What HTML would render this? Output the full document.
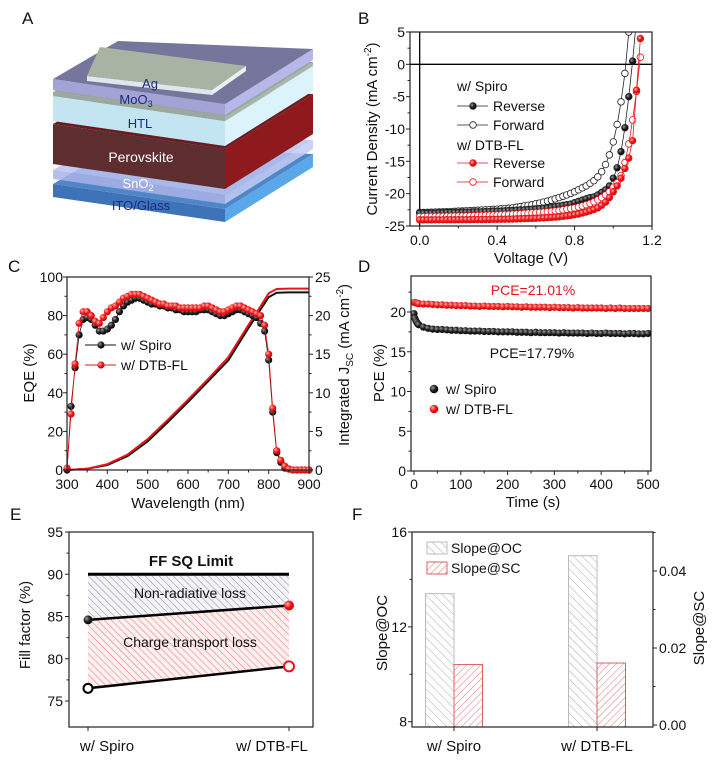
<!DOCTYPE html>
<html><head><meta charset="utf-8"><style>
html,body{margin:0;padding:0;background:#fff;}
svg{display:block;font-family:"Liberation Sans",Arial,sans-serif;}
</style></head><body>
<svg id="fig" width="716" height="774" viewBox="0 0 716 774" xmlns="http://www.w3.org/2000/svg">
<defs>
<radialGradient id="gBlack" cx="0.35" cy="0.35" r="0.7"><stop offset="0" stop-color="#9a9a9a"/><stop offset="0.5" stop-color="#222"/><stop offset="1" stop-color="#000"/></radialGradient>
<radialGradient id="gRed" cx="0.35" cy="0.35" r="0.7"><stop offset="0" stop-color="#ffb0b0"/><stop offset="0.5" stop-color="#ee1c1c"/><stop offset="1" stop-color="#c00"/></radialGradient>
<pattern id="hGray" patternUnits="userSpaceOnUse" width="5" height="5" patternTransform="rotate(-45)"><rect width="5" height="5" fill="#f4f4f8"/><line x1="0" y1="0" x2="0" y2="5" stroke="#8a8a9a" stroke-width="1"/></pattern>
<pattern id="hRed" patternUnits="userSpaceOnUse" width="5" height="5" patternTransform="rotate(-45)"><rect width="5" height="5" fill="#fff0f0"/><line x1="0" y1="0" x2="0" y2="5" stroke="#e07070" stroke-width="1"/></pattern>
<pattern id="bGray" patternUnits="userSpaceOnUse" width="6" height="6" patternTransform="rotate(-45)"><rect width="6" height="6" fill="#fff"/><line x1="0" y1="0" x2="0" y2="6" stroke="#aaa" stroke-width="1"/></pattern>
<pattern id="bRed" patternUnits="userSpaceOnUse" width="5" height="5" patternTransform="rotate(45)"><rect width="5" height="5" fill="#fff"/><line x1="0" y1="0" x2="0" y2="5" stroke="#e27070" stroke-width="1"/></pattern>
<clipPath id="clipB"><rect x="410" y="32" width="242" height="194"/></clipPath>
</defs>
</svg>
<script>
// ---------- data ----------
// Panel B (J-V)
const voltB=[0,0.02,0.04,0.06,0.08,0.1,0.12,0.14,0.16,0.18,0.2,0.22,0.24,0.26,0.28,0.3,0.32,0.34,0.36,0.38,0.4,0.42,0.44,0.46,0.48,0.5,0.52,0.54,0.56,0.58,0.6,0.62,0.64,0.66,0.68,0.7,0.72,0.74,0.76,0.78,0.8,0.82,0.84,0.86,0.88,0.9,0.92,0.94,0.96,0.98,1.0,1.02,1.04,1.06,1.08,1.1,1.12,1.14];
const spiroRev=[-23.0,-23.0,-23.0,-23.0,-23.0,-22.95,-22.95,-22.9,-22.9,-22.9,-22.9,-22.85,-22.85,-22.85,-22.8,-22.8,-22.8,-22.75,-22.75,-22.7,-22.7,-22.7,-22.65,-22.6,-22.6,-22.55,-22.5,-22.5,-22.45,-22.4,-22.35,-22.3,-22.25,-22.2,-22.1,-22.0,-21.9,-21.8,-21.7,-21.6,-21.4,-21.2,-21.0,-20.8,-20.6,-20.5,-20.2,-19.8,-19.4,-18.8,-17.6,-16.0,-13.5,-9.8,-5.0,0.5,7,14];
const spiroFwd=[-22.9,-22.9,-22.88,-22.86,-22.84,-22.82,-22.8,-22.78,-22.76,-22.74,-22.7,-22.68,-22.65,-22.62,-22.6,-22.56,-22.53,-22.5,-22.46,-22.43,-22.4,-22.35,-22.3,-22.25,-22.2,-22.1,-22.0,-21.9,-21.8,-21.7,-21.55,-21.45,-21.3,-21.15,-21.0,-20.8,-20.6,-20.4,-20.2,-19.95,-19.7,-19.4,-19.1,-18.8,-18.4,-18.0,-17.4,-16.6,-15.5,-14.0,-12.0,-9.3,-5.8,-1.4,5,12,20,28];
const dtbRev=[-24.05,-24.05,-24.05,-24.05,-24.04,-24.04,-24.04,-24.03,-24.03,-24.03,-24.02,-24.02,-24.02,-24.01,-24.0,-24.0,-24.0,-23.99,-23.98,-23.97,-23.96,-23.95,-23.94,-23.93,-23.92,-23.9,-23.88,-23.86,-23.84,-23.82,-23.8,-23.77,-23.74,-23.7,-23.66,-23.62,-23.57,-23.5,-23.43,-23.35,-23.25,-23.15,-23.0,-22.85,-22.65,-22.45,-22.2,-21.8,-21.3,-20.6,-19.7,-18.8,-17.6,-16.1,-14.5,-11.8,-4,4];
const dtbFwd=[-23.55,-23.55,-23.54,-23.54,-23.53,-23.52,-23.51,-23.5,-23.49,-23.48,-23.47,-23.46,-23.44,-23.42,-23.4,-23.38,-23.36,-23.34,-23.32,-23.3,-23.28,-23.25,-23.22,-23.2,-23.17,-23.14,-23.1,-23.06,-23.02,-22.98,-22.94,-22.9,-22.85,-22.8,-22.74,-22.68,-22.6,-22.5,-22.4,-22.3,-22.2,-22.05,-21.9,-21.7,-21.5,-21.25,-20.95,-20.6,-20.2,-19.7,-19.0,-18.3,-17.2,-15.2,-12.3,-8.6,-4.2,1.1];
const bXTicks=[0,0.4,0.8,1.2];
const bXTickLabels=['0.0','0.4','0.8','1.2'];
const bYTicks=[5,0,-5,-10,-15,-20,-25];

// Panel C (EQE)
const wlC=[300,310,320,330,340,350,360,370,380,390,400,410,420,430,440,450,460,470,480,490,500,510,520,530,540,550,560,570,580,590,600,610,620,630,640,650,660,670,680,690,700,710,720,730,740,750,760,770,780,790,800,810,820,830,840,850,860,870,880,890,900];
const eqeSpiro=[0,33,53,70,78,79,78,75,72,72,73,75,78,82,85,87,88,89,89,88,87,86,86,85,85,84,84,83,83,82,82,82,82,83,83,83,82,81,80,80,81,82,83,83,82,81,80,79,76,72,57,30,9,4,1,0.5,0,0,0,0,0];
const eqeDtb=[1,29,55,76,82,82,80,77,76,79,82,84,85,87,89,90,91,91,91,90,89,88,87,86,86,85,85,85,84,84,84,84,84,84,85,85,84,83,82,82,83,84,85,85,84,83,82,81,80,75,60,32,10,5,2,0.5,0,0,0,0,0];
const wlInt=[300,350,400,450,500,550,600,650,700,750,780,800,820,850,900];
const jscSpiro=[0,0.15,0.65,1.8,3.7,6.2,8.8,11.5,14.2,18.4,20.8,22.4,22.95,23.0,23.0];
const jscDtb=[0,0.17,0.75,2.0,4.0,6.5,9.1,11.8,14.6,18.8,21.2,22.9,23.45,23.5,23.5];
const cXTicks=[300,400,500,600,700,800,900];
const cYTicks=[0,20,40,60,80,100];
const cY2Ticks=[0,5,10,15,20,25];

// Panel D (stability)
const timeD=[0,2,4,6,8,10,20,30,40,50,60,70,80,90,100,110,120,130,140,150,160,170,180,190,200,210,220,230,240,250,260,270,280,290,300,310,320,330,340,350,360,370,380,390,400,410,420,430,440,450,460,470,480,490,500];
const pceSpiro=[19.8,19.2,18.9,18.7,18.5,18.4,18.1,17.95,17.85,17.8,17.8,17.75,17.7,17.7,17.65,17.65,17.6,17.6,17.6,17.55,17.55,17.55,17.5,17.5,17.5,17.5,17.45,17.45,17.45,17.4,17.45,17.4,17.4,17.4,17.4,17.35,17.4,17.35,17.35,17.35,17.35,17.3,17.35,17.3,17.3,17.35,17.3,17.3,17.3,17.25,17.3,17.3,17.25,17.25,17.3];
const pceDtb=[21.2,21.2,21.15,21.1,21.1,21.05,21.0,21.0,20.95,20.9,20.9,20.85,20.85,20.8,20.8,20.8,20.75,20.75,20.7,20.75,20.7,20.7,20.7,20.65,20.7,20.65,20.65,20.6,20.65,20.6,20.6,20.6,20.6,20.55,20.6,20.55,20.55,20.55,20.5,20.55,20.5,20.5,20.5,20.5,20.5,20.45,20.5,20.45,20.5,20.45,20.45,20.45,20.45,20.45,20.45];
const dXTicks=[0,100,200,300,400,500];
const dYTicks=[0,5,10,15,20];

// Panel E (fill factor)
const eCategories=['w/ Spiro','w/ DTB-FL'];
const ffSQ=[90,90];
const ffUpper=[84.6,86.3];
const ffLower=[76.5,79.1];
const eYTicks=[75,80,85,90,95];

// Panel F (slopes)
const fCategories=['w/ Spiro','w/ DTB-FL'];
const slopeOC=[13.4,15.0];
const slopeSC=[0.0157,0.0161];
const fYTicks=[8,12,16];
const fY2Ticks=[0,0.02,0.04];
const fY2Labels=['0.00','0.02','0.04'];

// ---------- helpers ----------
const NS='http://www.w3.org/2000/svg';
const svg=document.getElementById('fig');
function mk(tag,attrs,name,parent){
  const el=document.createElementNS(NS,tag);
  for(const k in attrs) el.setAttribute(k,attrs[k]);
  
  
  (parent||svg).appendChild(el);
  return el;
}
function txt(x,y,s,opts,name,parent){const t=mk('text',Object.assign({x:x,y:y,'font-size':14,fill:'#111'},opts||{}),name,parent);t.textContent=s;return t;}
function lin(d0,d1,r0,r1){return v=>r0+(v-d0)/(d1-d0)*(r1-r0);}
function grp(name){return mk('g',{},name);}
function frame(x0,y0,x1,y1,name){mk('rect',{x:x0,y:y0,width:x1-x0,height:y1-y0,fill:'none',stroke:'#222','stroke-width':1.2},name);}
function yAxisTicks(g,x,sc,vals,labels,dir,minor,lx,anchor){
  vals.forEach((v,i)=>{
    mk('line',{x1:x,x2:x+dir*4,y1:sc(v),y2:sc(v),stroke:'#222'},'y-tick',g);
    if(labels) txt(lx,sc(v)+5,labels[i],{'text-anchor':anchor},'y-tick-label',g);
  });
  (minor||[]).forEach(v=>mk('line',{x1:x,x2:x+dir*2.5,y1:sc(v),y2:sc(v),stroke:'#222'},'y-minor-tick',g));
}
function xAxisTicks(g,y,sc,vals,labels,minor,ly){
  vals.forEach((v,i)=>{
    mk('line',{x1:sc(v),x2:sc(v),y1:y,y2:y+4,stroke:'#222'},'x-tick',g);
    if(labels) txt(sc(v),ly,labels[i],{'text-anchor':'middle'},'x-tick-label',g);
  });
  (minor||[]).forEach(v=>mk('line',{x1:sc(v),x2:sc(v),y1:y,y2:y+2.5,stroke:'#222'},'x-minor-tick',g));
}
function pathFrom(xs,ys,sx,sy){return xs.map((x,i)=>(i?'L':'M')+sx(x).toFixed(1)+' '+sy(ys[i]).toFixed(1)).join(' ');}

// ---------- panel letters ----------
[['A',22,24],['B',358,24],['C',8,272],['D',358,272],['E',10,520],['F',352,520]].forEach(p=>txt(p[1],p[2],p[0],{'font-size':17},'panel-label-'+p[0].toLowerCase()));

// ---------- Panel A: device stack ----------
(function(){
  const g=grp('device-stack-diagram');
  function slab(yL,h,top,left,right,op,name,sh){
    sh=sh||{L:[53,0],T:[118,-38],R:[313,-30],F:[225,25]};
    const P=k=>[sh[k][0],yL+sh[k][1]];
    const L=P('L'),T=P('T'),R=P('R'),F=P('F');
    mk('polygon',{points:[L,F,[F[0],F[1]+h],[L[0],L[1]+h]].map(p=>p.join(',')).join(' '),fill:left,opacity:op},name+'-front-face',g);
    mk('polygon',{points:[F,R,[R[0],R[1]+h],[F[0],F[1]+h]].map(p=>p.join(',')).join(' '),fill:right,opacity:op},name+'-side-face',g);
    mk('polygon',{points:[L,T,R,F].map(p=>p.join(',')).join(' '),fill:top,opacity:op},name+'-top-face',g);
  }
  slab(184,13,'#4f86c8','#3f73b8','#5aa7ea',1,'ito-glass-layer');
  slab(170,9,'#b9c2ee','#a9b3e6','#c4cbf5',0.85,'sno2-layer');
  slab(124,40,'#6a1c20','#5e2d30','#8e1a1e',1,'perovskite-layer');
  slab(96,25,'#a9d3e3','#c3e5f2','#dcf3fb',1,'htl-layer');
  slab(92,4,'#9aa59e','#9aa89e','#a8b6ac',1,'interlayer');
  slab(79,11,'#76769c','#a3a3d6','#b7b7ea',1,'moo3-layer');
  slab(76,5,'#a8b3a4','#dde7ec','#e8f1f4',1,'ag-electrode',{L:[87,0],T:[100,-29],R:[246,-10],F:[212,14]});
  txt(150,88,'Ag',{'text-anchor':'middle',fill:'#1a2a80','font-size':13},'label-ag',g);
  const m=txt(136,104,'MoO',{'text-anchor':'middle',fill:'#1a2a80','font-size':13},'label-moo3',g);
  const s=document.createElementNS(NS,'tspan');s.setAttribute('font-size','9');s.setAttribute('dy','3');s.textContent='3';m.appendChild(s);
  txt(140,128,'HTL',{'text-anchor':'middle',fill:'#1a2a80','font-size':13},'label-htl',g);
  txt(141,162,'Perovskite',{'text-anchor':'middle',fill:'#fff','font-size':14},'label-perovskite',g);
  const n=txt(138,188,'SnO',{'text-anchor':'middle',fill:'#fff','font-size':13},'label-sno2',g);
  const s2=document.createElementNS(NS,'tspan');s2.setAttribute('font-size','9');s2.setAttribute('dy','3');s2.textContent='2';n.appendChild(s2);
  txt(141,210,'ITO/Glass',{'text-anchor':'middle',fill:'#1a2a80','font-size':13},'label-ito-glass',g);
})();

// ---------- Panel B ----------
(function(){
  const g=grp('panel-b-jv-chart');
  const sx=lin(-0.05,1.2,410,652), sy=lin(5,-25,32,226);
  const cg=mk('g',{'clip-path':'url(#clipB)'},'jv-plot-area',g);
  mk('line',{x1:sx(0),x2:sx(0),y1:32,y2:226,stroke:'#000','stroke-width':1.3},'zero-voltage-line',cg);
  mk('line',{x1:410,x2:652,y1:sy(0),y2:sy(0),stroke:'#000','stroke-width':1.3},'zero-current-line',cg);
  const series=[[spiroFwd,'#222','#fff','spiro-forward'],[spiroRev,'#222','url(#gBlack)','spiro-reverse'],[dtbFwd,'#e8151b','#fff','dtb-forward'],[dtbRev,'#e8151b','url(#gRed)','dtb-reverse']];
  series.forEach(s=>{
    mk('path',{d:pathFrom(voltB,s[0],sx,sy),fill:'none',stroke:s[1],'stroke-width':0.8},s[3]+'-line',cg);
    voltB.forEach((v,i)=>mk('circle',{cx:sx(v),cy:sy(s[0][i]),r:3.3,fill:s[2],stroke:s[1],'stroke-width':0.8},s[3]+'-point',cg));
  });
  frame(410,32,652,226,'jv-axes-frame');
  yAxisTicks(g,410,sy,bYTicks,bYTicks.map(String),-1,[2.5,-2.5,-7.5,-12.5,-17.5,-22.5],405,'end');
  xAxisTicks(g,226,sx,bXTicks,bXTickLabels,[0.2,0.6,1.0],245);
  txt(531,263,'Voltage (V)',{'text-anchor':'middle','font-size':15},'x-axis-title',g);
  const yt=txt(0,0,'Current Density (mA cm',{'text-anchor':'middle','font-size':15,transform:'translate(377,129) rotate(-90)'},'y-axis-title',g);
  const sp=document.createElementNS(NS,'tspan');sp.setAttribute('font-size','10');sp.setAttribute('dy','-6');sp.textContent='-2';yt.appendChild(sp);
  const sp2=document.createElementNS(NS,'tspan');sp2.setAttribute('dy','6');sp2.textContent=')';yt.appendChild(sp2);
  const lg=mk('g',{},'jv-legend',g);
  txt(457,91,'w/ Spiro',{},'legend-title-spiro',lg);
  txt(457,150,'w/ DTB-FL',{},'legend-title-dtb',lg);
  [[111,'#222','url(#gBlack)','Reverse'],[130,'#222','#fff','Forward'],[168,'#e8151b','url(#gRed)','Reverse'],[187,'#e8151b','#fff','Forward']].forEach(r=>{
    mk('line',{x1:457,x2:488,y1:r[0]-5,y2:r[0]-5,stroke:r[1],'stroke-width':0.8},'legend-line',lg);
    mk('circle',{cx:473,cy:r[0]-5,r:3.3,fill:r[2],stroke:r[1],'stroke-width':0.8},'legend-marker',lg);
    txt(493,r[0],r[3],{},'legend-entry',lg);
  });
})();

// ---------- Panel C ----------
(function(){
  const g=grp('panel-c-eqe-chart');
  const sx=lin(300,900,67,309), sy=lin(0,100,470,277), sy2=lin(0,25,470,277);
  mk('path',{d:pathFrom(wlInt,jscSpiro,sx,sy2),fill:'none',stroke:'#111','stroke-width':2},'integrated-jsc-spiro',g);
  mk('path',{d:pathFrom(wlInt,jscDtb,sx,sy2),fill:'none',stroke:'#e8151b','stroke-width':2},'integrated-jsc-dtb',g);
  [[eqeSpiro,'#111','url(#gBlack)','eqe-spiro'],[eqeDtb,'#e8151b','url(#gRed)','eqe-dtb']].forEach(s=>{
    mk('path',{d:pathFrom(wlC,s[0],sx,sy),fill:'none',stroke:s[1],'stroke-width':0.8},s[3]+'-line',g);
    wlC.forEach((w,i)=>mk('circle',{cx:sx(w),cy:sy(s[0][i]),r:3.6,fill:s[2]},s[3]+'-point',g));
  });
  frame(67,277,309,470,'eqe-axes-frame');
  yAxisTicks(g,67,sy,cYTicks,cYTicks.map(String),-1,[10,30,50,70,90],63,'end');
  yAxisTicks(g,309,sy2,cY2Ticks,cY2Ticks.map(String),1,[2.5,7.5,12.5,17.5,22.5],315,'start');
  xAxisTicks(g,470,sx,cXTicks,cXTicks.map(String),[350,450,550,650,750,850],489);
  txt(188,508,'Wavelength (nm)',{'text-anchor':'middle','font-size':15},'x-axis-title',g);
  txt(0,0,'EQE (%)',{'text-anchor':'middle','font-size':15,transform:'translate(34,373) rotate(-90)'},'y-axis-title',g);
  const t=txt(0,0,'Integrated J',{'text-anchor':'middle','font-size':15,transform:'translate(349,365) rotate(-90)'},'right-axis-title',g);
  const a=document.createElementNS(NS,'tspan');a.setAttribute('font-size','10');a.setAttribute('dy','4');a.textContent='SC';t.appendChild(a);
  const b=document.createElementNS(NS,'tspan');b.setAttribute('dy','-4');b.textContent=' (mA cm';t.appendChild(b);
  const c=document.createElementNS(NS,'tspan');c.setAttribute('font-size','10');c.setAttribute('dy','-6');c.textContent='-2';t.appendChild(c);
  const d=document.createElementNS(NS,'tspan');d.setAttribute('dy','6');d.textContent=')';t.appendChild(d);
  const lg=mk('g',{},'eqe-legend',g);
  [[345,'#111','url(#gBlack)','w/ Spiro'],[365,'#e8151b','url(#gRed)','w/ DTB-FL']].forEach(r=>{
    mk('line',{x1:85,x2:116,y1:r[0],y2:r[0],stroke:r[1]},'legend-line',lg);
    mk('circle',{cx:101,cy:r[0],r:3.6,fill:r[2]},'legend-marker',lg);
    txt(121,r[0]+5,r[3],{},'legend-entry',lg);
  });
})();

// ---------- Panel D ----------
(function(){
  const g=grp('panel-d-pce-chart');
  const sx=lin(0,500,414,648), sy=lin(0,20,471,312);
  [[pceSpiro,'url(#gBlack)','pce-spiro'],[pceDtb,'url(#gRed)','pce-dtb']].forEach(s=>{
    timeD.forEach((t,i)=>mk('circle',{cx:sx(t),cy:sy(s[0][i]),r:3.6,fill:s[1]},s[2]+'-point',g));
  });
  frame(411,276,651,471,'pce-axes-frame');
  yAxisTicks(g,411,sy,dYTicks,dYTicks.map(String),-1,[2.5,7.5,12.5,17.5,22.5],406,'end');
  xAxisTicks(g,471,sx,dXTicks,dXTicks.map(String),[50,150,250,350,450],489);
  txt(533,507,'Time (s)',{'text-anchor':'middle','font-size':15},'x-axis-title',g);
  txt(0,0,'PCE (%)',{'text-anchor':'middle','font-size':15,transform:'translate(384,373) rotate(-90)'},'y-axis-title',g);
  txt(533,295,'PCE=21.01%',{'text-anchor':'middle',fill:'#e8151b'},'annotation-pce-dtb',g);
  txt(532,358,'PCE=17.79%',{'text-anchor':'middle'},'annotation-pce-spiro',g);
  const lg=mk('g',{},'pce-legend',g);
  [[389,'url(#gBlack)','w/ Spiro'],[409,'url(#gRed)','w/ DTB-FL']].forEach(r=>{
    mk('circle',{cx:434,cy:r[0],r:4.3,fill:r[1]},'legend-marker',lg);
    txt(446,r[0]+5,r[2],{},'legend-entry',lg);
  });
})();

// ---------- Panel E ----------
(function(){
  const g=grp('panel-e-fill-factor-chart');
  const sy=lin(75,95,701,532);
  const sx=i=>88+i*201;
  const idx=eCategories.map((c,i)=>i);
  mk('polygon',{points:idx.map(i=>sx(i)+','+sy(ffSQ[i])).concat(idx.slice().reverse().map(i=>sx(i)+','+sy(ffUpper[i]))).join(' '),fill:'url(#hGray)'},'non-radiative-loss-area',g);
  mk('polygon',{points:idx.map(i=>sx(i)+','+sy(ffUpper[i])).concat(idx.slice().reverse().map(i=>sx(i)+','+sy(ffLower[i]))).join(' '),fill:'url(#hRed)'},'charge-transport-loss-area',g);
  mk('path',{d:pathFrom(idx,ffSQ,sx,sy),stroke:'#000','stroke-width':3,fill:'none'},'ff-sq-limit-line',g);
  mk('path',{d:pathFrom(idx,ffUpper,sx,sy),stroke:'#000','stroke-width':2.5,fill:'none'},'ff-upper-line',g);
  mk('path',{d:pathFrom(idx,ffLower,sx,sy),stroke:'#000','stroke-width':2.5,fill:'none'},'ff-lower-line',g);
  mk('circle',{cx:sx(0),cy:sy(ffUpper[0]),r:4.5,fill:'url(#gBlack)'},'ff-upper-spiro-point',g);
  mk('circle',{cx:sx(1),cy:sy(ffUpper[1]),r:5,fill:'url(#gRed)'},'ff-upper-dtb-point',g);
  mk('circle',{cx:sx(0),cy:sy(ffLower[0]),r:4.5,fill:'#fff',stroke:'#000','stroke-width':2},'ff-lower-spiro-point',g);
  mk('circle',{cx:sx(1),cy:sy(ffLower[1]),r:5,fill:'#fff',stroke:'#e8151b','stroke-width':2},'ff-lower-dtb-point',g);
  txt(191,566,'FF SQ Limit',{'text-anchor':'middle','font-weight':'bold','font-size':15},'ff-sq-limit-label',g);
  txt(190,598,'Non-radiative loss',{'text-anchor':'middle'},'non-radiative-loss-label',g);
  txt(190,647,'Charge transport loss',{'text-anchor':'middle'},'charge-transport-loss-label',g);
  frame(69,532,313,727,'ff-axes-frame');
  yAxisTicks(g,69,sy,eYTicks,eYTicks.map(String),-1,[77.5,82.5,87.5,92.5],63,'end');
  idx.forEach(i=>{mk('line',{x1:sx(i),x2:sx(i),y1:727,y2:731,stroke:'#222'},'x-tick',g);});
  txt(107,751,eCategories[0],{'text-anchor':'middle','font-size':15},'x-tick-label',g);
  txt(272,751,eCategories[1],{'text-anchor':'middle','font-size':15},'x-tick-label',g);
  txt(0,0,'Fill factor (%)',{'text-anchor':'middle','font-size':15,transform:'translate(30,625) rotate(-90)'},'y-axis-title',g);
})();

// ---------- Panel F ----------
(function(){
  const g=grp('panel-f-slope-chart');
  const sy=lin(8,16,721.7,532), sy2=lin(0,0.04,725,571);
  const cx=i=>454+i*143, bw=28.5, base=727;
  fCategories.forEach((c,i)=>{
    mk('rect',{x:cx(i)-bw,y:sy(slopeOC[i]),width:bw,height:base-sy(slopeOC[i]),fill:'url(#bGray)',stroke:'#bbb','stroke-width':1},'bar-slope-oc',g);
    mk('rect',{x:cx(i),y:sy2(slopeSC[i]),width:bw,height:base-sy2(slopeSC[i]),fill:'url(#bRed)',stroke:'#d96060','stroke-width':1},'bar-slope-sc',g);
  });
  frame(412,532,653,727,'slope-axes-frame');
  yAxisTicks(g,412,sy,fYTicks,fYTicks.map(String),-1,[10,14],407,'end');
  yAxisTicks(g,653,sy2,fY2Ticks,fY2Labels,1,[0.01,0.03,0.05],659,'start');
  fCategories.forEach((c,i)=>{
    mk('line',{x1:cx(i),x2:cx(i),y1:727,y2:731,stroke:'#222'},'x-tick',g);
    txt(cx(i),751,c,{'text-anchor':'middle','font-size':15},'x-tick-label',g);
  });
  txt(0,0,'Slope@OC',{'text-anchor':'middle','font-size':15,transform:'translate(387,633) rotate(-90)'},'y-axis-title',g);
  txt(0,0,'Slope@SC',{'text-anchor':'middle','font-size':15,transform:'translate(704,628) rotate(-90)'},'right-axis-title',g);
  const lg=mk('g',{},'slope-legend',g);
  mk('rect',{x:427,y:542,width:20,height:12,fill:'url(#bGray)',stroke:'#bbb'},'legend-swatch-oc',lg);
  txt(451,553,'Slope@OC',{},'legend-entry',lg);
  mk('rect',{x:427,y:562,width:20,height:12,fill:'url(#bRed)',stroke:'#d96060'},'legend-swatch-sc',lg);
  txt(451,573,'Slope@SC',{},'legend-entry',lg);
})();
</script>
</body></html>
